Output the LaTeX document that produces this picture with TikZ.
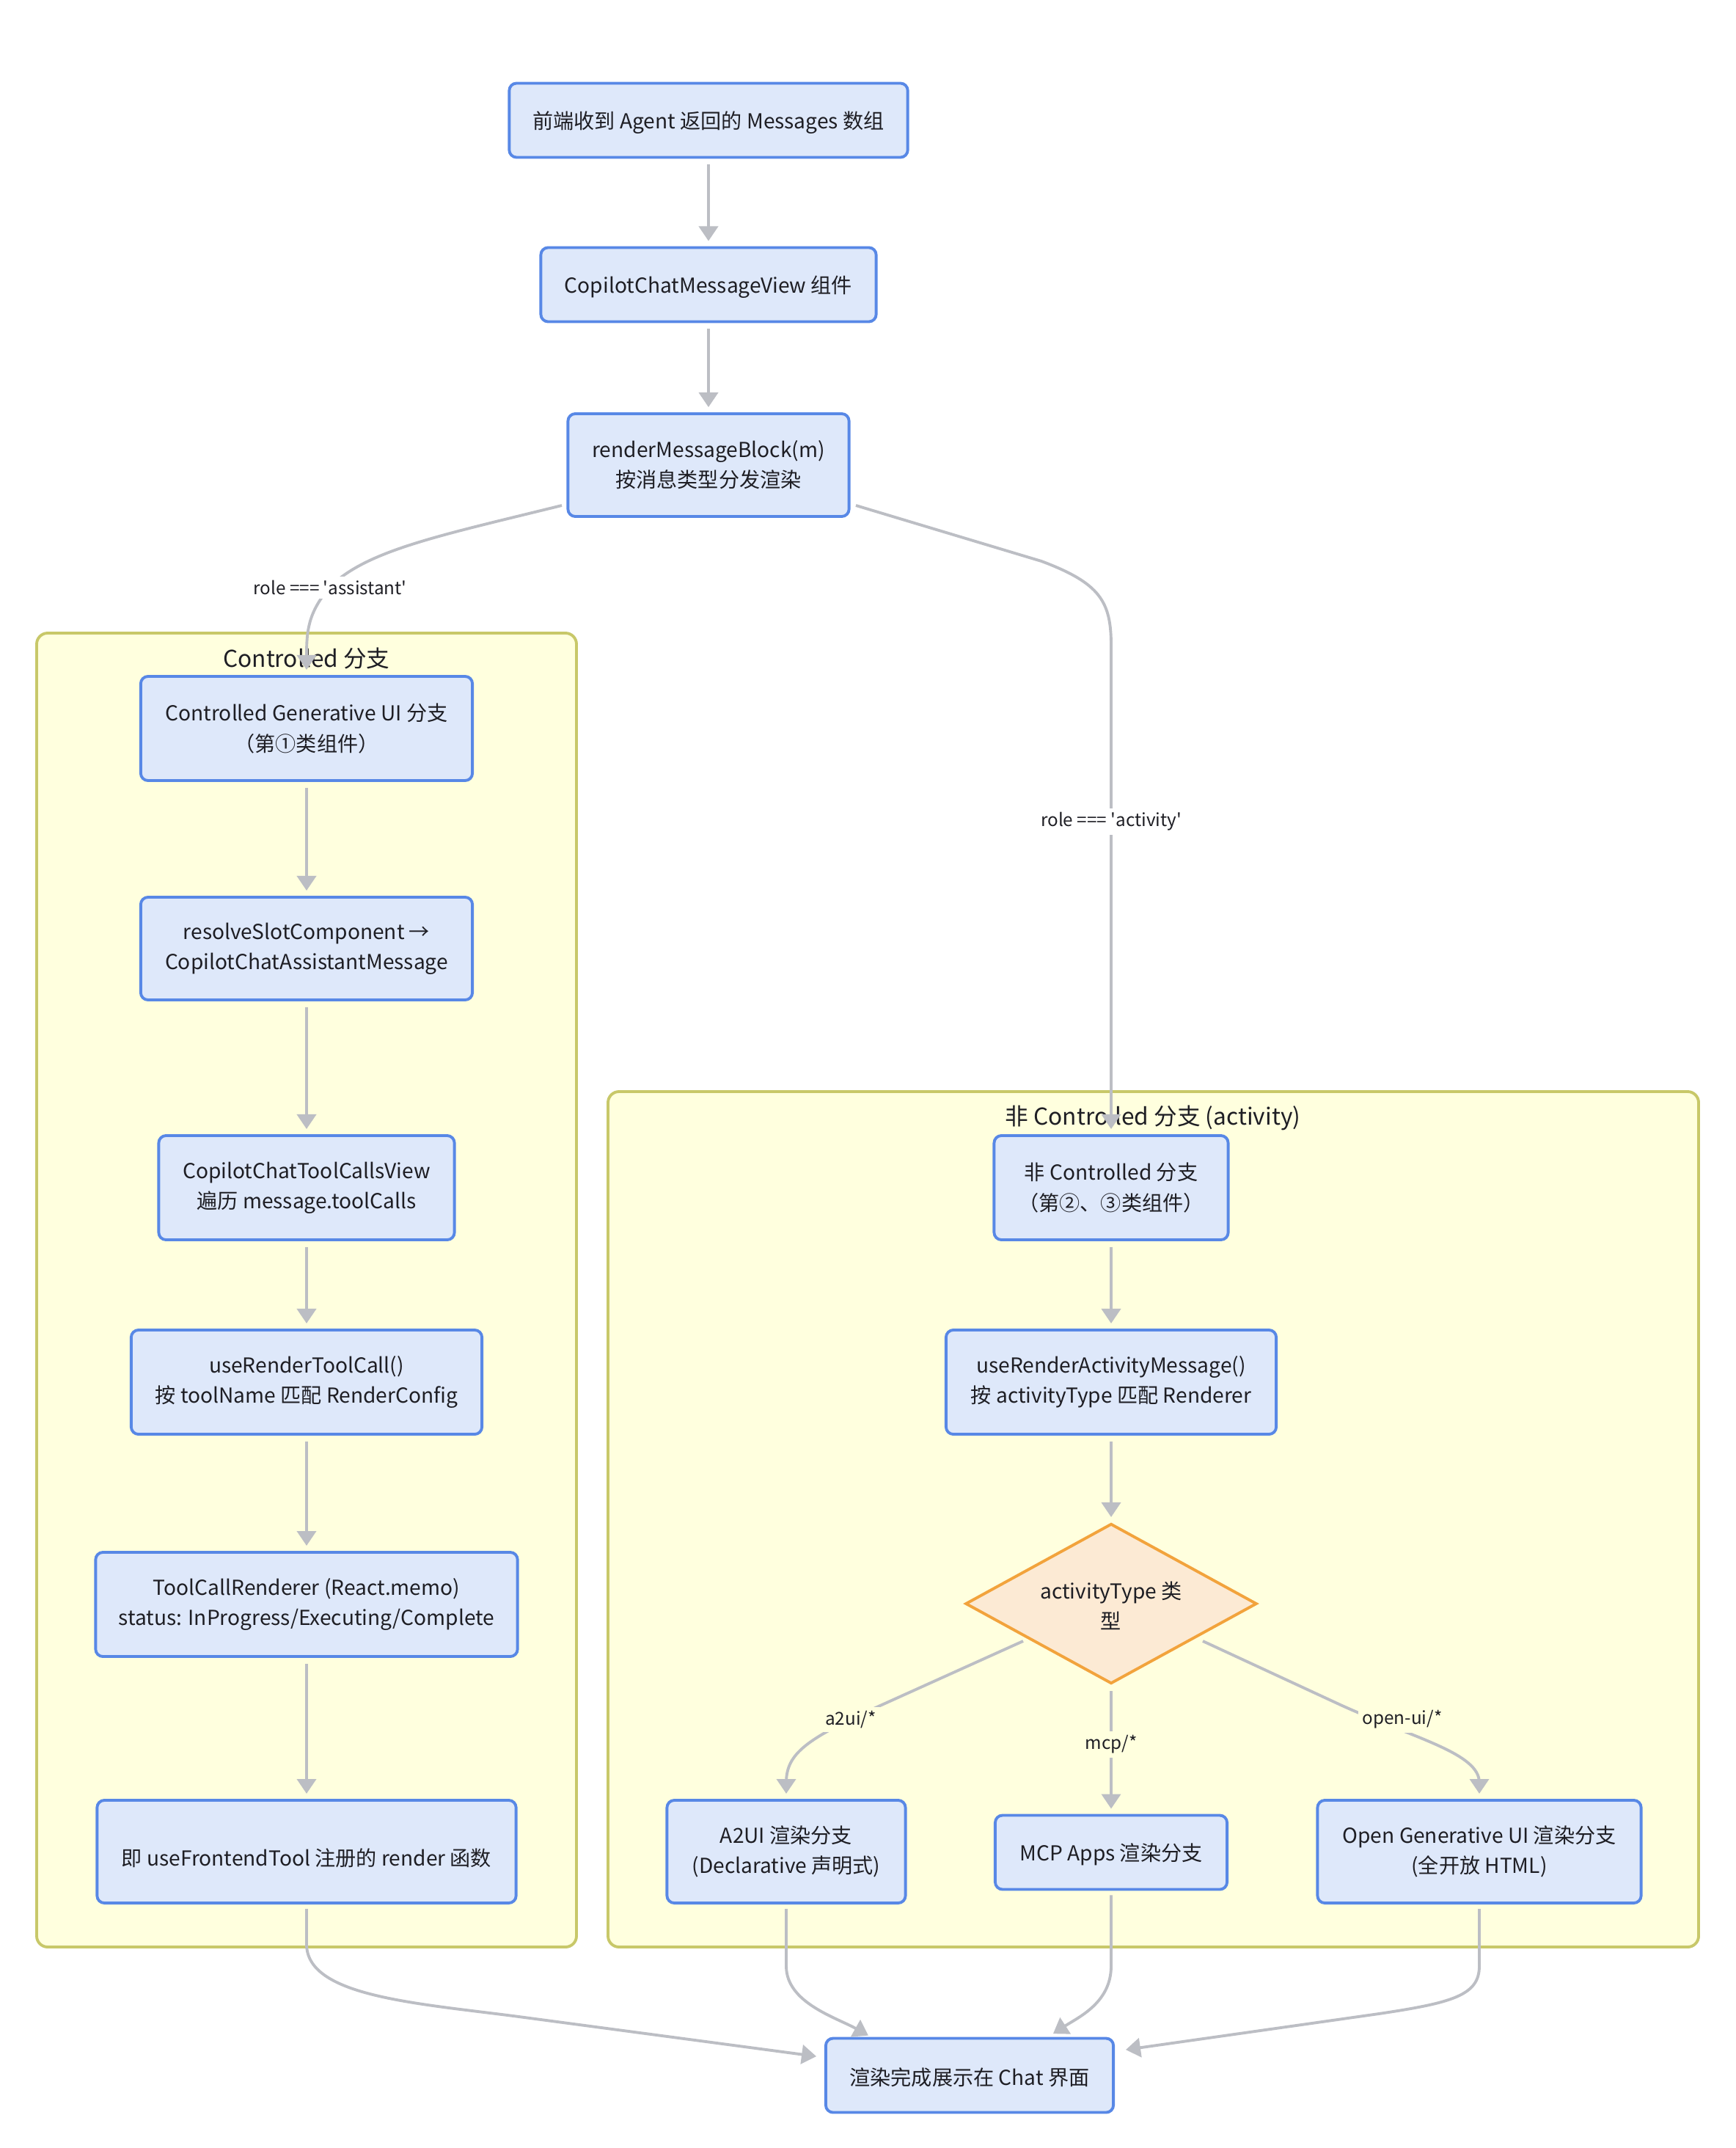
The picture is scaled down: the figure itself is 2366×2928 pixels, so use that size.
\documentclass[tikz,border=0pt]{standalone}
\usepackage{fontspec}
\setmainfont{Noto Sans CJK SC}
\newfontfamily\lblfont{Noto Sans CJK SC}
\usetikzlibrary{arrows.meta,shapes.geometric}
\definecolor{boxfill}{RGB}{222,232,250}
\definecolor{boxline}{RGB}{88,136,230}
\definecolor{clfill}{RGB}{255,255,222}
\definecolor{clline}{RGB}{200,200,105}
\definecolor{dfill}{RGB}{252,234,212}
\definecolor{dline}{RGB}{242,163,60}
\definecolor{edgec}{RGB}{188,190,196}
\definecolor{txt}{RGB}{30,30,36}
\tikzset{
  box/.style={draw=boxline, fill=boxfill, line width=1.1pt, rounded corners=0.1cm,
    align=center, inner sep=0pt, text=txt, font=\fontsize{8}{11.7}\selectfont,
    execute at begin node={\rule{0pt}{8.6pt}}},
  cluster/.style={draw=clline, fill=clfill, line width=1.1pt, rounded corners=0.15cm},
  cltitle/.style={text=txt, font=\fontsize{9}{10}\selectfont, inner sep=0pt},
  decision/.style={diamond, draw=dline, fill=dfill, line width=1.1pt, inner sep=0pt},
  dtext/.style={align=center, inner sep=0pt, text=txt, font=\fontsize{8}{11.7}\selectfont},
  edge/.style={draw=edgec, line width=1.1pt, -{Triangle[length=0.2cm,width=0.26cm]},
    shorten >=2pt},
  lbl/.style={text=txt, font=\lblfont\fontsize{6.9}{8}\selectfont, inner sep=1.5pt}
}
\begin{document}
\begin{tikzpicture}[x=0.01cm,y=-0.01cm]
\useasboundingbox[fill=white] (0,0) rectangle (2366,2928);

% clusters
\draw[cluster] (50,863) rectangle (786,2654);
\draw[cluster] (829,1488) rectangle (2316,2654);
\node[cltitle] (t1) at (418,898) {Controlled 分支};
\node[cltitle] (t2) at (1572,1524) {非 Controlled 分支 (activity)};

% nodes
\node[box, minimum width=5.43cm, minimum height=1.01cm] (n1) at (966,164) {前端收到 Agent 返回的 Messages 数组};
\node[box, minimum width=4.57cm, minimum height=1.01cm] (n2) at (966,388) {CopilotChatMessageView 组件};
\node[box, minimum width=3.83cm, minimum height=1.40cm] (n3) at (966,634) {renderMessageBlock(m)\\按消息类型分发渲染};

\node[box, minimum width=4.52cm, minimum height=1.42cm] (n4) at (418,993) {Controlled Generative UI 分支\\（第①类组件）};
\node[box, minimum width=4.52cm, minimum height=1.40cm] (n5) at (418,1293) {resolveSlotComponent →\\CopilotChatAssistantMessage};
\node[box, minimum width=4.03cm, minimum height=1.42cm] (n6) at (418,1619) {CopilotChatToolCallsView\\遍历 message.toolCalls};
\node[box, minimum width=4.78cm, minimum height=1.42cm] (n7) at (418,1884) {useRenderToolCall()\\按 toolName 匹配 RenderConfig};
\node[box, minimum width=5.75cm, minimum height=1.42cm] (n8) at (418,2187) {ToolCallRenderer (React.memo)\\status: InProgress/Executing/Complete};
\node[box, minimum width=5.71cm, minimum height=1.40cm] (n9) at (418,2524) {\mbox{}\\即 useFrontendTool 注册的 render 函数};

\node[box, minimum width=3.19cm, minimum height=1.42cm] (n10) at (1515,1619) {非 Controlled 分支\\（第②、③类组件）};
\node[box, minimum width=4.50cm, minimum height=1.42cm] (n11) at (1515,1884) {useRenderActivityMessage()\\按 activityType 匹配 Renderer};
\node[decision, minimum width=3.97cm, minimum height=2.18cm] (dia) at (1515,2186) {};
\node[dtext] (diat) at (1515,2189) {activityType 类\\型};

\node[box, minimum width=3.25cm, minimum height=1.40cm] (a2ui) at (1072,2524) {A2UI 渲染分支\\(Declarative 声明式)};
\node[box, minimum width=3.16cm, minimum height=1.01cm] (mcp) at (1515,2525) {MCP Apps 渲染分支};
\node[box, minimum width=4.41cm, minimum height=1.40cm] (open) at (2017,2524) {Open Generative UI 渲染分支\\(全开放 HTML)};
\node[box, minimum width=3.92cm, minimum height=1.01cm] (fin) at (1322,2829) {渲染完成展示在 Chat 界面};

% helper coordinates
\coordinate (s3l) at (766,689);
\coordinate (s3r) at (1167,689);
\coordinate (sdl) at (1395,2237);
\coordinate (sdr) at (1640,2237);
\coordinate (finL) at (1120,2804);
\coordinate (finR) at (1528,2795);
\coordinate (finA) at (1190,2778);
\coordinate (finM) at (1430,2776);

% edges
\draw[edge] (n1.south) ++(0,8) -- (n2.north);
\draw[edge] (n2.south) ++(0,8) -- (n3.north);

\draw[edge] (s3l) .. controls (600,730) and (500,750) .. (450,800)
  .. controls (420,835) and (418,860) .. (n4.north);
\draw[edge] (s3r) -- (1420,765) .. controls (1500,795) and (1515,820) .. (1515,880) -- (n10.north);

\draw[edge] (n4.south) ++(0,8) -- (n5.north);
\draw[edge] (n5.south) ++(0,8) -- (n6.north);
\draw[edge] (n6.south) ++(0,8) -- (n7.north);
\draw[edge] (n7.south) ++(0,8) -- (n8.north);
\draw[edge] (n8.south) ++(0,8) -- (n9.north);

\draw[edge] (n10.south) ++(0,8) -- (n11.north);
\draw[edge] (n11.south) ++(0,8) -- (dia.north);

\draw[edge] (sdl) -- (1200,2325) .. controls (1100,2370) and (1072,2390) .. (1072,2430) -- (a2ui.north);
\draw[edge] (dia.south) ++(0,8) -- (mcp.north);
\draw[edge] (sdr) -- (1830,2325) .. controls (1930,2370) and (2017,2390) .. (2017,2430) -- (open.north);

\draw[edge] (n9.south) ++(0,6) -- (418,2650) .. controls (418,2720) and (560,2730) .. (700,2748) -- (finL);
\draw[edge] (a2ui.south) ++(0,6) -- (1072,2680) .. controls (1072,2730) and (1140,2750) .. (finA);
\draw[edge] (mcp.south) ++(0,6) -- (1515,2680) .. controls (1515,2730) and (1470,2750) .. (finM);
\draw[edge] (open.south) ++(0,6) -- (2017,2680) .. controls (2017,2720) and (1980,2730) .. (1880,2745) -- (finR);

% edge labels
\node[lbl, fill=white] (la) at (450,801) {role === \textquotesingle assistant\textquotesingle};
\node[lbl, fill=white] (lb) at (1515,1120) {role === \textquotesingle activity\textquotesingle};
\node[lbl, fill=clfill] (lc) at (1160,2344) {a2ui/*};
\node[lbl, fill=clfill] (ld) at (1515,2378) {mcp/*};
\node[lbl, fill=clfill] (le) at (1912,2344) {open-ui/*};
\end{tikzpicture}
\end{document}
